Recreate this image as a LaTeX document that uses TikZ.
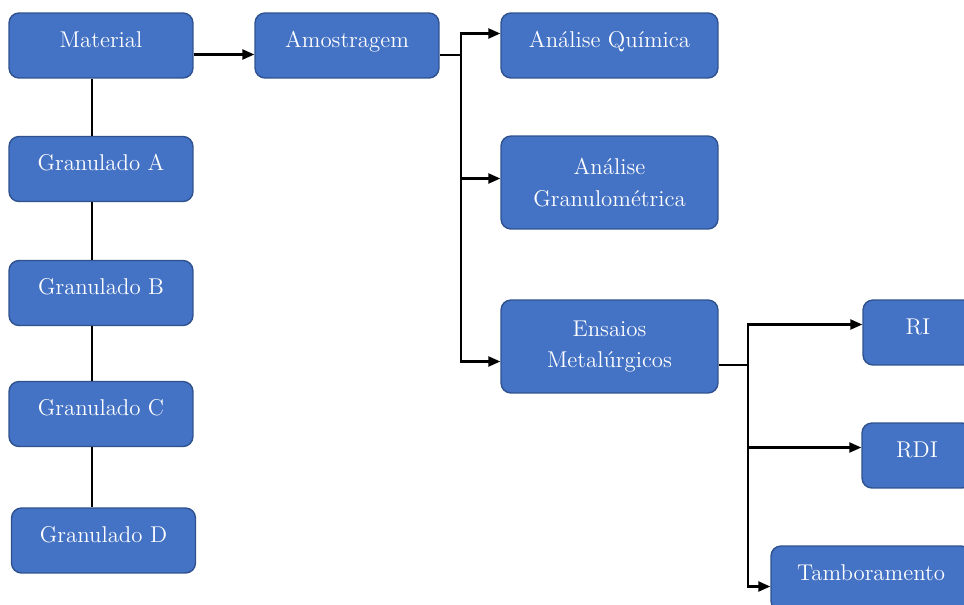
\documentclass[tikz,border=0pt]{standalone}
\usepackage{xcolor}
\usetikzlibrary{arrows.meta,positioning,calc}
\definecolor{boxfill}{HTML}{4472C4}
\definecolor{boxline}{HTML}{2F528F}

\begin{document}
\begin{tikzpicture}[
  x=0.02cm, y=-0.02cm,
  box/.style={draw=boxline, line width=0.8pt, fill=boxfill, rounded corners=0.2cm, align=center, text=white,
    font=\fontsize{13}{18}\selectfont, minimum width=3.68cm, minimum height=1.3cm, inner sep=0pt,
    text height=9pt, text depth=7pt},
  wide/.style={box, minimum width=4.34cm},
  tall/.style={wide, minimum height=1.86cm, text height=, text depth=},
  small/.style={box, minimum width=2.2cm},
  ln/.style={line width=1.3pt, draw=black},
  arr/.style={ln, -{Triangle[length=2.4mm, width=2mm]}}]
\useasboundingbox (0,0) rectangle (964,605);
\clip (0,0) rectangle (964,605);
\fill[white] (0,0) rectangle (964,605);
% left column
\node[box] (mat) at (101,45.5) {Material};
\node[box] (gA) at (101,169) {Granulado A};
\node[box] (gB) at (101,293) {Granulado B};
\node[box] (gC) at (101,414) {Granulado C};
\node[box] (gD) at (103.5,540.5) {Granulado D};
% sampling and analyses
\node[box] (amo) at (347,45.5) {Amostragem};
\node[wide] (quim) at (609.5,45.5) {Análise Química};
\node[tall] (gran) at (609.5,182.5) {Análise\\Granulométrica};
\node[tall] (ens) at (609.5,346.5) {Ensaios\\Metalúrgicos};
% metallurgical tests
\node[small] (ri) at (918,332.5) {RI};
\node[small] (rdi) at (917,455.5) {RDI};
\node[box, minimum width=4.0cm] (tamb) at (871,578.5) {Tamboramento};
% connectors
\coordinate (v) at (92,0);
\draw[ln] (mat.south -| v) -- (gA.north -| v);
\draw[ln] (gA.south -| v) -- (gB.north -| v);
\draw[ln] (gB.south -| v) -- (gC.north -| v);
\draw[ln] (gC.south -| v) -- (gD.north -| v);
\draw[arr] ($(mat.east)+(0,9)$) -- ($(amo.west)+(0,9)$);
\coordinate (s1) at (461,55);
\draw[ln] (amo.east |- s1) -- (s1);
\draw[arr] (s1) |- ($(quim.west)+(0,-12)$);
\draw[arr] (s1) |- ($(gran.west)+(0,-4)$);
\draw[arr] (s1) |- ($(ens.west)+(0,15)$);
\coordinate (s2) at (748,365);
\draw[ln] (ens.east |- s2) -- (s2);
\draw[arr] (s2) |- ($(ri.west)+(0,-8)$);
\draw[arr] (s2) |- ($(rdi.west)+(0,-8)$);
\draw[arr] (s2) |- ($(tamb.west)+(0,8)$);
\end{tikzpicture}
\end{document}
